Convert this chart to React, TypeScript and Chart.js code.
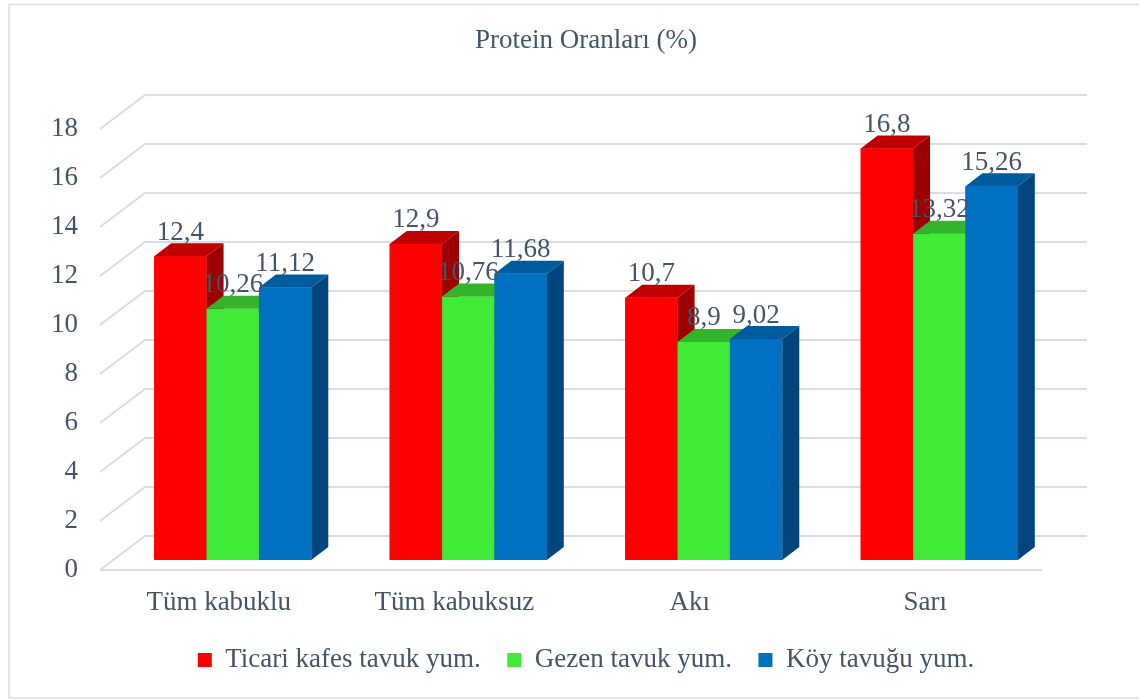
import React, { useEffect, useRef } from 'react';
import { Chart, registerables } from 'chart.js';

Chart.register(...registerables);

const categories = ['Tüm kabuklu', 'Tüm kabuksuz', 'Akı', 'Sarı'];
const seriesNames = ['Ticari kafes tavuk yum.', 'Gezen tavuk yum.', 'Köy tavuğu yum.'];
const ticariValues = [12.4, 12.9, 10.7, 16.8];
const gezenValues = [10.26, 10.76, 8.9, 13.32];
const koyValues = [11.12, 11.68, 9.02, 15.26];
const yMin = 0;
const yMax = 18;
const yStep = 2;
const titleText = 'Protein Oranları (%)';

const FONT = "'Liberation Serif', 'Times New Roman', serif";
const FS = 27;
const TEXT = '#44546A';
const GRID = '#D9DCE3';
const FRONT = { dx: -15, dy: 10 };
const BACK = { dx: 30, dy: -24 };
const DEPTH = { dx: 17, dy: -13 };

const frontColors = ['#FF0000', '#41EA36', '#0070C0'];
const topColors = ['#C00000', '#34B42B', '#005A9E'];
const sideColors = ['#9C0000', '#2B9523', '#00467C'];

const fmt = (v: number) => String(v).replace('.', ',');

const bars3d = {
  id: 'bars3d',
  beforeDraw(chart: any) {
    const { ctx } = chart;
    ctx.save();
    ctx.strokeStyle = '#D9DDE3';
    ctx.lineWidth = 1.5;
    ctx.strokeRect(9, 4.5, 1140, 693.5);
    ctx.restore();
  },
  beforeDatasetsDraw(chart: any) {
    const { ctx, chartArea, scales } = chart;
    const y = scales.y;
    ctx.save();
    ctx.strokeStyle = GRID;
    ctx.lineWidth = 2;
    y.ticks.forEach((t: any) => {
      const yp = y.getPixelForValue(t.value);
      ctx.beginPath();
      ctx.moveTo(chartArea.left + FRONT.dx, yp + FRONT.dy);
      ctx.lineTo(chartArea.left + BACK.dx, yp + BACK.dy);
      ctx.lineTo(chartArea.right + BACK.dx, yp + BACK.dy);
      ctx.stroke();
    });
    const y0 = y.getPixelForValue(yMin);
    ctx.beginPath();
    ctx.moveTo(chartArea.left + FRONT.dx, y0 + FRONT.dy);
    ctx.lineTo(chartArea.right + FRONT.dx, y0 + FRONT.dy);
    ctx.stroke();
    ctx.restore();
  },
  afterDatasetsDraw(chart: any) {
    const { ctx, chartArea } = chart;
    ctx.save();
    // paint bars left-to-right (dataset order) so that side faces are occluded correctly
    chart.data.datasets.forEach((_ds: any, i: number) => {
      const meta = chart.getDatasetMeta(i);
      meta.data.forEach((el: any) => {
        el.draw(ctx, chartArea);
        const { x, y, base, width } = el.getProps(['x', 'y', 'base', 'width'], true);
        const l = x - width / 2;
        const r = x + width / 2;
        ctx.fillStyle = topColors[i];
        ctx.beginPath();
        ctx.moveTo(l, y);
        ctx.lineTo(r, y);
        ctx.lineTo(r + DEPTH.dx, y + DEPTH.dy);
        ctx.lineTo(l + DEPTH.dx, y + DEPTH.dy);
        ctx.closePath();
        ctx.fill();
        ctx.fillStyle = sideColors[i];
        ctx.beginPath();
        ctx.moveTo(r, y);
        ctx.lineTo(r + DEPTH.dx, y + DEPTH.dy);
        ctx.lineTo(r + DEPTH.dx, base + DEPTH.dy);
        ctx.lineTo(r, base);
        ctx.closePath();
        ctx.fill();
      });
    });
    ctx.font = `${FS}px ${FONT}`;
    ctx.fillStyle = TEXT;
    ctx.textAlign = 'center';
    ctx.textBaseline = 'alphabetic';
    chart.data.datasets.forEach((ds: any, i: number) => {
      const meta = chart.getDatasetMeta(i);
      meta.data.forEach((el: any, j: number) => {
        const { x, y } = el.getProps(['x', 'y'], true);
        ctx.fillText(fmt(ds.data[j]), x, y + DEPTH.dy - 3.5);
      });
    });
    ctx.restore();
  },
};

export default function App() {
  const ref = useRef<HTMLCanvasElement | null>(null);
  useEffect(() => {
    if (!ref.current) return;
    const seriesValues = [ticariValues, gezenValues, koyValues];
    const chart = new Chart(ref.current, {
      type: 'bar',
      data: {
        labels: categories,
        datasets: seriesNames.map((name, i) => ({
          label: name,
          data: seriesValues[i],
          backgroundColor: frontColors[i],
          borderWidth: 0,
          categoryPercentage: 0.667,
          barPercentage: 1,
        })),
      },
      options: {
        responsive: false,
        animation: false,
        layout: { padding: { left: 20, right: 82, top: 0, bottom: 16.5 } },
        plugins: {
          title: {
            display: true,
            text: titleText,
            fullSize: false,
            color: TEXT,
            font: { family: FONT, size: FS, weight: 'normal', lineHeight: 1.2 },
            padding: { top: 25, bottom: 61.6 },
          },
          legend: {
            display: true,
            position: 'bottom',
            fullSize: false,
            labels: {
              color: TEXT,
              font: { family: FONT, size: FS, lineHeight: 1.2 },
              boxWidth: 14,
              boxHeight: 14,
              padding: 26.5,
            },
          },
          tooltip: { enabled: false },
        },
        scales: {
          x: {
            grid: { display: false, drawTicks: false },
            border: { display: false },
            ticks: {
              color: TEXT,
              font: { family: FONT, size: FS, lineHeight: 1.2 },
              padding: 26.8,
              labelOffset: -14,
              maxRotation: 0,
            },
            afterFit: (s: any) => { s.height = 60; },
          },
          y: {
            min: yMin,
            max: yMax,
            grid: { display: false, drawTicks: false },
            border: { display: false },
            ticks: {
              stepSize: yStep,
              color: TEXT,
              font: { family: FONT, size: FS, lineHeight: 1.2 },
              padding: 37,
              labelOffset: 10,
            },
            afterFit: (s: any) => { s.width = 95; },
          },
        },
      },
      plugins: [bars3d],
    } as any);
    return () => chart.destroy();
  }, []);
  return (
    <div style={{ position: 'fixed', left: 0, top: 0, width: 1139, height: 700, background: '#fff' }}>
      <canvas ref={ref} width={1139} height={700} />
    </div>
  );
}
